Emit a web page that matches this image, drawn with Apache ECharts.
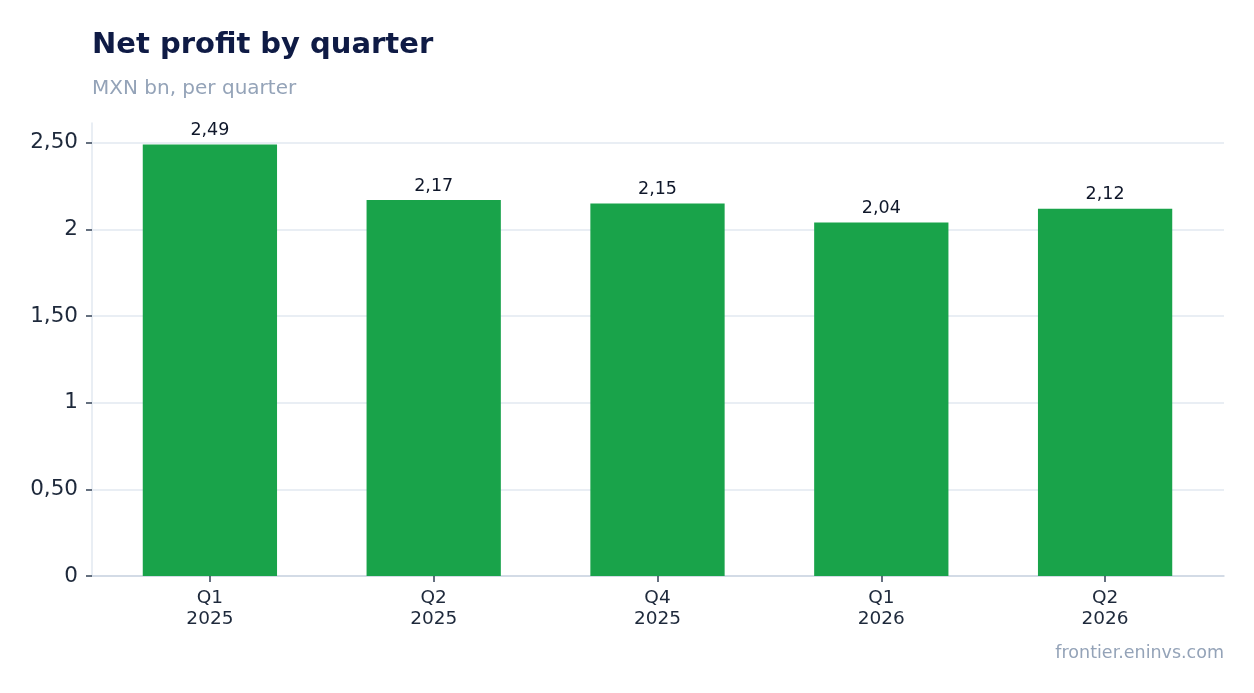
<!DOCTYPE html>
<html>
<head>
<meta charset="utf-8">
<script src="https://cdn.jsdelivr.net/npm/echarts@6/dist/echarts.min.js"></script>
<style>
  html, body { margin: 0; padding: 0; background: #fff; }
  #main { width: 1254px; height: 693px; }
</style>
</head>
<body>
<div id="main"></div>
<script>
var quarters = ['Q1\n2025', 'Q2\n2025', 'Q4\n2025', 'Q1\n2026', 'Q2\n2026'];
var profit = [2.49, 2.17, 2.15, 2.04, 2.12];
var yTicks = [0, 0.5, 1, 1.5, 2, 2.5];

function fmt(v) {
    if (v === 0) return '0';
    var s = Number.isInteger(v) ? String(v) : v.toFixed(2);
    return s.replace('.', ',');
}

var yMax = Math.max.apply(null, profit) * 1.05;

var myChart = echarts.init(document.getElementById('main'));
var option = {
    backgroundColor: '#ffffff',
    textStyle: { fontFamily: 'DejaVu Sans' },
    title: [
        {
            text: 'Net profit by quarter',
            left: 87,
            top: 26,
            textStyle: { fontSize: 29, fontWeight: 'bold', color: '#0f1b45', fontFamily: 'DejaVu Sans' }
        },
        {
            text: 'MXN bn, per quarter',
            left: 87,
            top: 74,
            textStyle: { fontSize: 20, fontWeight: 'normal', color: '#94a3b8', fontFamily: 'DejaVu Sans' }
        },
        {
            text: 'frontier.eninvs.com',
            right: 25,
            top: 639,
            textStyle: { fontSize: 17.5, fontWeight: 'normal', color: '#94a3b8', fontFamily: 'DejaVu Sans' }
        }
    ],
    grid: [
        { left: 92, right: 30, top: 123, bottom: 117 },
        { left: 98, right: 37, top: 123, bottom: 117 }
    ],
    xAxis: [
        {
            type: 'category',
            gridIndex: 0,
            data: quarters,
            axisLine: { lineStyle: { color: '#cbd5e1', width: 1.5 } },
            axisTick: { show: false },
            axisLabel: { show: false }
        },
        {
            type: 'category',
            gridIndex: 1,
            data: quarters,
            axisLine: { show: false },
            axisTick: { show: true, alignWithLabel: true, length: 6, lineStyle: { color: '#334155', width: 1.5 } },
            axisLabel: { fontSize: 18.5, color: '#1e293b', lineHeight: 21, margin: 12 }
        }
    ],
    yAxis: [
        {
            type: 'value',
            gridIndex: 0,
            min: 0,
            max: yMax,
            interval: 0.5,
            axisLine: { show: true, lineStyle: { color: '#e2e8f0', width: 1.5 } },
            axisTick: { show: true, length: 6, lineStyle: { color: '#334155', width: 1.5 } },
            axisLabel: {
                fontSize: 21.5, color: '#1e293b', margin: 14,
                formatter: function (v) { return yTicks.indexOf(v) >= 0 ? fmt(v) : ''; },
                showMaxLabel: false
            },
            splitLine: { showMaxLine: false, lineStyle: { color: '#e2e8f0', width: 1.5 } }
        },
        {
            type: 'value',
            gridIndex: 1,
            min: 0,
            max: yMax,
            show: false
        }
    ],
    series: [
        {
            name: 'Net profit',
            type: 'bar',
            xAxisIndex: 1,
            yAxisIndex: 1,
            data: profit,
            barWidth: '60%',
            itemStyle: { color: '#19a34a' },
            label: {
                show: true,
                position: 'top',
                distance: 5,
                fontSize: 17.5,
                color: '#0f172a',
                formatter: function (p) { return p.value.toFixed(2).replace('.', ','); }
            }
        }
    ]
};
myChart.setOption(option);
</script>
</body>
</html>
